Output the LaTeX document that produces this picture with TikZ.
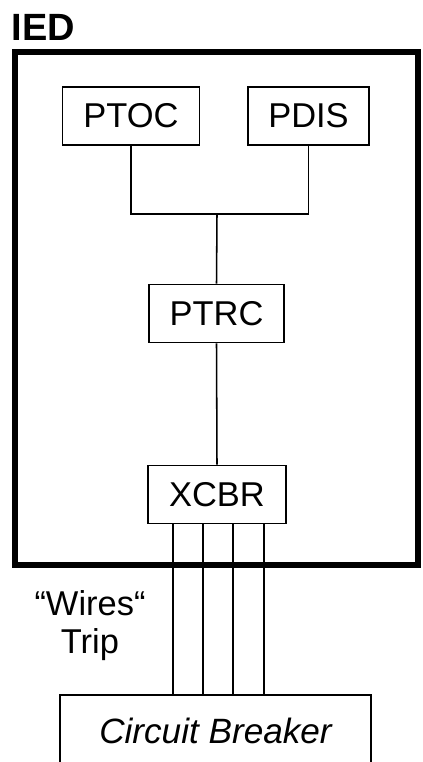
\documentclass[tikz,border=0pt]{standalone}
\usepackage{fontspec}
\setmainfont{Liberation Sans}
\usetikzlibrary{calc}
\tikzset{
  ln/.style={draw,rectangle,line width=1.1pt,minimum width=137*0.025cm,minimum height=58*0.025cm,inner sep=0pt,font=\fontsize{24.5}{27}\selectfont},
  wire/.style={line width=1.1pt},
  every picture/.style={line width=1.1pt},
}
\begin{document}
\begin{tikzpicture}[x=0.025cm,y=-0.025cm]
\useasboundingbox (0,0) rectangle (422,762);
\clip (0,0) rectangle (422,762);
\draw[line width=3.6pt] (15,52) rectangle (418,565);
\node[font=\fontsize{27}{30}\selectfont\bfseries,anchor=west,inner sep=0pt] (ied) at (11,27){IED};
\node[ln] (ptoc) at (131,116){PTOC}; \node[ln,minimum width=121*0.025cm] (pdis) at (308.5,116){PDIS};
\node[ln,minimum width=135*0.025cm] (ptrc) at (216.5,313.5){PTRC};
\node[ln,minimum width=138*0.025cm] (xcbr) at (217,494.5){XCBR};
\node[ln,minimum width=311*0.025cm,minimum height=72*0.025cm,font=\fontsize{25}{28}\selectfont\itshape] (cb) at (215.5,731){Circuit Breaker};
\coordinate (j) at (217,214);
\node[align=center,inner sep=0pt,font=\fontsize{24.5}{27}\selectfont] (trip) at (90,626){``Wires``\\Trip};
\draw (ptoc.south) |- (j) -| (pdis.south);
\draw (j) -- (ptrc.north); \draw (ptrc.south) -- (xcbr.north);
\foreach \x in {173,203,233,264}{\draw[wire] (xcbr.south -| \x,0) -- (cb.north -| \x,0);}
\end{tikzpicture}
\end{document}
